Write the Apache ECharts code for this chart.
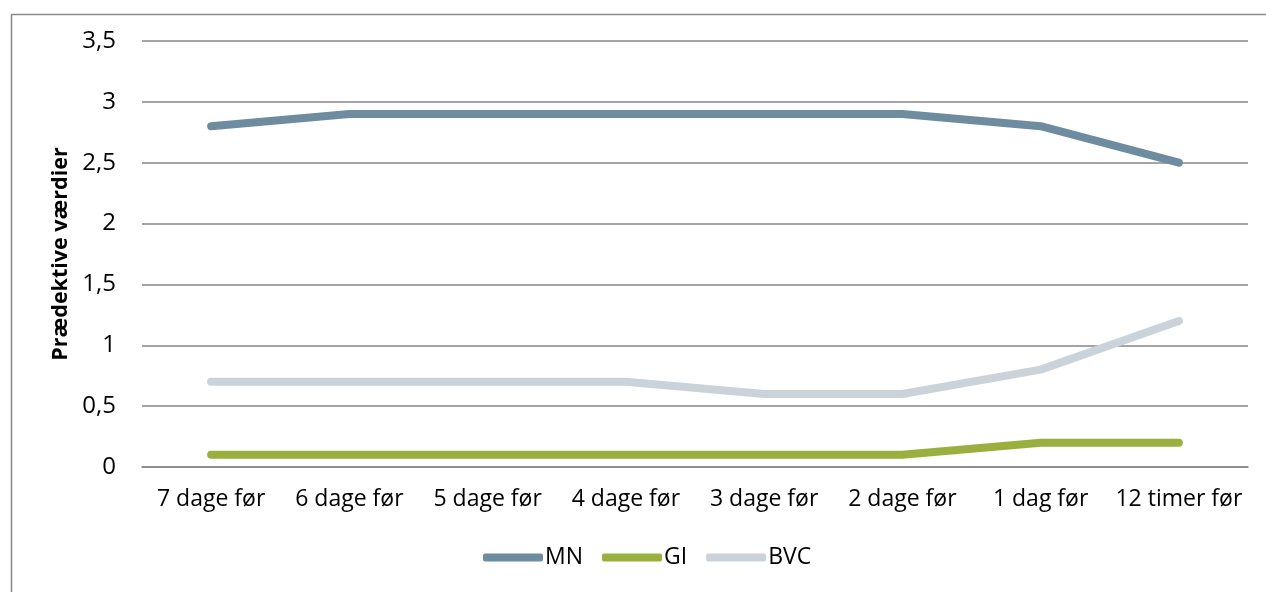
<!DOCTYPE html>
<html>
<head>
<meta charset="utf-8">
<script src="https://cdn.jsdelivr.net/npm/echarts@6/dist/echarts.min.js"></script>
<style>
  html, body { margin: 0; padding: 0; background: #fff; }
  #chart { width: 1266px; height: 592px; }
</style>
</head>
<body>
<div id="chart"></div>
<script>
// Time points before the event
const categories = ['7 dage før', '6 dage før', '5 dage før', '4 dage før', '3 dage før', '2 dage før', '1 dag før', '12 timer før'];
// Predictive values per score
const mnValues = [2.8, 2.9, 2.9, 2.9, 2.9, 2.9, 2.8, 2.5];
const giValues = [0.1, 0.1, 0.1, 0.1, 0.1, 0.1, 0.2, 0.2];
const bvcValues = [0.7, 0.7, 0.7, 0.7, 0.6, 0.6, 0.8, 1.2];
const seriesNames = ['MN', 'GI', 'BVC'];
const colors = ['#6d8c9f', '#9baf3e', '#cbd3da'];

const font = '"Open Sans", Lato, sans-serif';
const chart = echarts.init(document.getElementById('chart'));

function lineSeries(name, data, color) {
  return {
    name: name,
    type: 'line',
    data: data,
    symbol: 'none',
    lineStyle: { color: color, width: 8, cap: 'round', join: 'round' },
    itemStyle: { color: color },
    emphasis: { disabled: true }
  };
}

chart.setOption({
  animation: false,
  color: colors,
  graphic: [{
    type: 'rect',
    left: 9, top: 12,
    shape: { width: 1400, height: 700 },
    style: { fill: 'none', stroke: '#898989', lineWidth: 1.5 },
    silent: true
  }],
  grid: { left: 142, right: 18, top: 41, bottom: 125 },
  legend: {
    data: seriesNames,
    bottom: 18,
    left: 478,
    itemWidth: 60,
    itemHeight: 8,
    itemGap: 19,
    icon: 'roundRect',
    textStyle: { fontFamily: font, fontSize: 23, color: '#000', padding: [0, 0, 0, -3] }
  },
  xAxis: {
    type: 'category',
    data: categories,
    boundaryGap: true,
    axisLine: { show: true, lineStyle: { color: '#868686', width: 1.5 } },
    axisTick: { show: false },
    axisLabel: { fontFamily: font, fontSize: 23, color: '#000', margin: 21, interval: 0 }
  },
  yAxis: {
    type: 'value',
    min: 0, max: 3.5, interval: 0.5,
    name: 'Prædektive værdier',
    nameLocation: 'middle',
    nameGap: 68,
    nameRotate: 90,
    nameTextStyle: { fontFamily: font, fontSize: 21.5, fontWeight: 'bold', color: '#000' },
    axisLine: { show: false },
    axisTick: { show: false },
    axisLabel: {
      fontFamily: font, fontSize: 24, color: '#000', margin: 26,
      formatter: v => String(v).replace('.', ',')
    },
    splitLine: { lineStyle: { color: '#868686', width: 1.5 } }
  },
  series: [
    lineSeries('MN', mnValues, colors[0]),
    lineSeries('GI', giValues, colors[1]),
    lineSeries('BVC', bvcValues, colors[2])
  ]
});
</script>
</body>
</html>
